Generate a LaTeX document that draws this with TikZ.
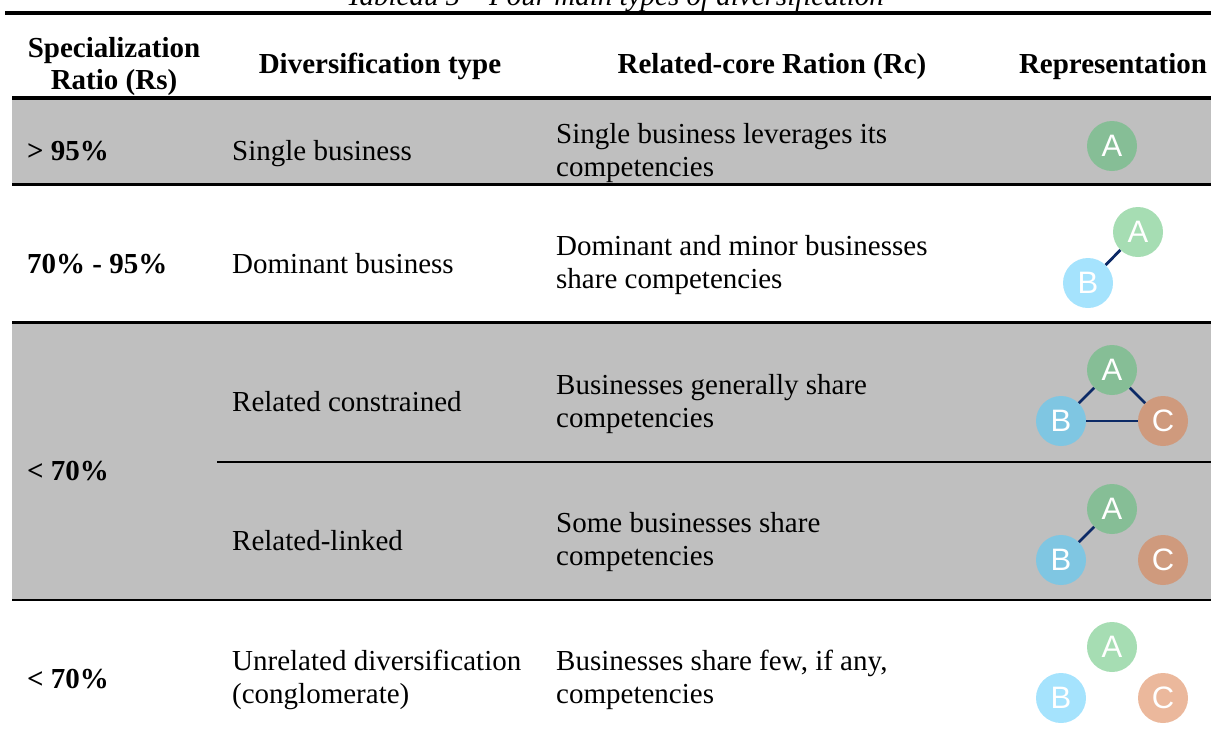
\documentclass[tikz,border=0pt]{standalone}
\usepackage{fontspec}
\setmainfont{Liberation Serif}
\newfontfamily\circfont{Liberation Sans}
\definecolor{gbg}{HTML}{BFBFBF}
\definecolor{adark}{HTML}{86BE96}
\definecolor{alight}{HTML}{A6DDB3}
\definecolor{bdark}{HTML}{7FC6E2}
\definecolor{blight}{HTML}{A5E3FD}
\definecolor{cdark}{HTML}{CF9A7D}
\definecolor{clight}{HTML}{EBB89C}
\definecolor{lnk}{HTML}{0C2A66}
\begin{document}
\begin{tikzpicture}[x=1pt,y=-1pt,
  txt/.style={anchor=base west, inner sep=0pt, font=\fontsize{29}{33}\selectfont},
  hdr/.style={anchor=base, inner sep=0pt, font=\fontsize{29}{33}\selectfont\bfseries},
  bub/.style={circle, minimum size=50pt, inner sep=0pt, text=white, font=\circfont\fontsize{31}{31}\selectfont},
  link/.style={draw=lnk, line width=2.8pt},
  rule/.style={line width=#1}]
\useasboundingbox (0,0) rectangle (1211,729);
\clip (0,0) rectangle (1211,729);
% backgrounds
\fill[gbg] (12,98) rectangle (1211,185);
\fill[gbg] (12,323) rectangle (1211,600);
% rules
\draw[rule=4pt] (5,13) -- (1211,13);
\draw[rule=3.5pt] (12,98) -- (1211,98);
\draw[rule=2.5pt] (12,184.5) -- (1211,184.5);
\draw[rule=2.5pt] (12,322.5) -- (1211,322.5);
\draw[rule=1.5pt] (217,462) -- (1211,462);
\draw[rule=2.5pt] (12,600) -- (1211,600);
% title
\node[anchor=base, inner sep=0pt, font=\fontsize{29}{33}\selectfont\itshape] (title) at (615,5) {Tableau 5 – Four main types of diversification};
% header
\node[hdr] (h1a) at (114,57) {Specialization};
\node[hdr] (h1b) at (114,89) {Ratio (Rs)};
\node[hdr] (h2) at (380,73) {Diversification type};
\node[hdr] (h3) at (772,73) {Related-core Ration (Rc)};
\node[hdr] (h4) at (1113,73) {Representation};
% row 1
\node[txt,font=\fontsize{29}{33}\selectfont\bfseries] (r1a) at (27,160) {> 95\%};
\node[txt] (r1b) at (232,160) {Single business};
\node[txt] (r1c1) at (556,143) {Single business leverages its};
\node[txt] (r1c2) at (556,176) {competencies};
% row 2
\node[txt,font=\fontsize{29}{33}\selectfont\bfseries] (r2a) at (27,273) {70\% - 95\%};
\node[txt] (r2b) at (232,273) {Dominant business};
\node[txt] (r2c1) at (556,255) {Dominant and minor businesses};
\node[txt] (r2c2) at (556,288) {share competencies};
% rows 3-4
\node[txt,font=\fontsize{29}{33}\selectfont\bfseries] (r3a) at (27,480) {< 70\%};
\node[txt] (r3b) at (232,411) {Related constrained};
\node[txt] (r3c1) at (556,394) {Businesses generally share};
\node[txt] (r3c2) at (556,427) {competencies};
\node[txt] (r4b) at (232,550) {Related-linked};
\node[txt] (r4c1) at (556,532) {Some businesses share};
\node[txt] (r4c2) at (556,565) {competencies};
% row 5
\node[txt,font=\fontsize{29}{33}\selectfont\bfseries] (r5a) at (27,688) {< 70\%};
\node[txt] (r5b1) at (232,670) {Unrelated diversification};
\node[txt] (r5b2) at (232,703) {(conglomerate)};
\node[txt] (r5c1) at (556,670) {Businesses share few, if any,};
\node[txt] (r5c2) at (556,703) {competencies};
% representations
\node[bub,fill=adark] (a1) at (1112,146) {A};
\node[bub,fill=alight] (a2) at (1138,232) {A};
\node[bub,fill=blight] (b2) at (1088,283) {B};
\draw[link] (b2) -- (a2);
\node[bub,fill=adark] (a3) at (1112,370) {A};
\node[bub,fill=bdark] (b3) at (1061,421) {B};
\node[bub,fill=cdark] (c3) at (1163,421) {C};
\draw[link] (b3) -- (a3);
\draw[link] (a3) -- (c3);
\draw[link] (b3) -- (c3);
\node[bub,fill=adark] (a4) at (1112,509) {A};
\node[bub,fill=bdark] (b4) at (1061,560) {B};
\node[bub,fill=cdark] (c4) at (1163,560) {C};
\draw[link] (b4) -- (a4);
\node[bub,fill=alight] (a5) at (1112,647) {A};
\node[bub,fill=blight] (b5) at (1061,698) {B};
\node[bub,fill=clight] (c5) at (1163,698) {C};
\end{tikzpicture}
\end{document}
